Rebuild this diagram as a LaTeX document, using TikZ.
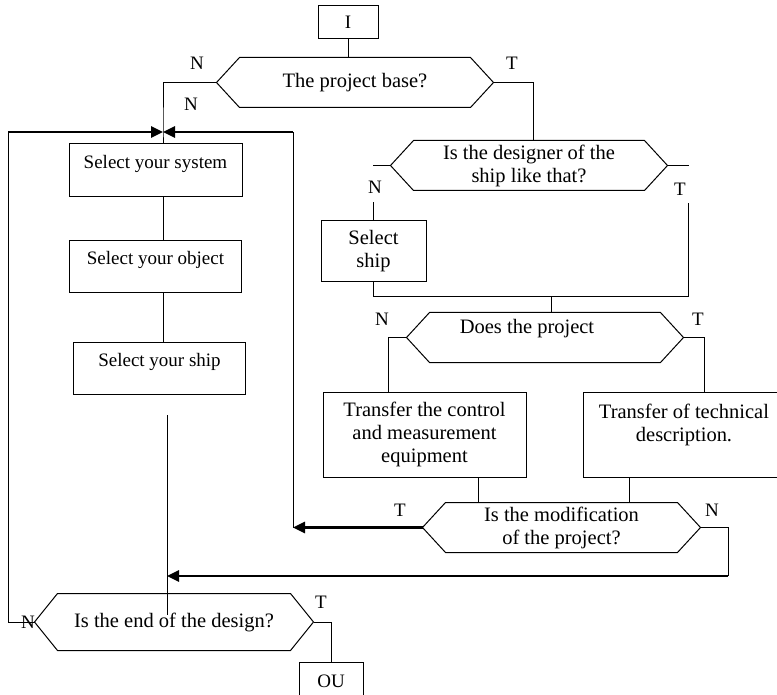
\documentclass[tikz,border=0pt]{standalone}
\usepackage{fontspec}
\setmainfont{Liberation Serif}
\usetikzlibrary{arrows.meta, positioning}

% hexagonal outline round a decision node
\newcommand{\hexframe}[1]{%
  \draw ([xshift=23pt]#1.north west) -- ([xshift=-23pt]#1.north east) -- (#1.east)
    -- ([xshift=-23pt]#1.south east) -- ([xshift=23pt]#1.south west) -- (#1.west) -- cycle;}

\begin{document}
\begin{tikzpicture}[
  x=1pt, y=-1pt, line width=1pt,
  txt/.style={font=\fontsize{20.5}{23}\selectfont},
  smalltxt/.style={font=\fontsize{19}{22}\selectfont},
  box/.style={rectangle, draw, txt, align=center, inner sep=0pt},
  selbox/.style={box, smalltxt, minimum width=172pt, minimum height=52pt,
                 text height=14pt, text depth=18pt},
  termbox/.style={box, smalltxt},
  decision/.style={rectangle, txt, align=center, inner sep=0pt,
                   minimum width=276pt, minimum height=49pt},
  branch/.style={smalltxt, inner sep=1pt},
  thickarrow/.style={line width=2.6pt, -{Triangle[length=12pt,width=11pt]}}
]
\useasboundingbox (0,0) rectangle (777,695);

% left column
\node[termbox, minimum width=60pt, minimum height=33pt] (start) at (348,22.5) {I};
\node[decision] (base) at (355,82.5) {The project base?};
\node[selbox, minimum width=173pt, minimum height=53pt] (system) at (155.5,170.5) {Select your system};
\node[selbox, below=43pt of system] (object) {Select your object};
\node[selbox, below=48pt of object, xshift=4pt] (ship) {Select your ship};

% right column
\node[decision] (designer) at (529,165.5) {Is the designer of the\\ship like that?};
\node[box, minimum width=105pt, minimum height=61pt] (pick) at (373.5,251.5) {Select\\ship};
\node[decision, label={[txt, xshift=-18pt, yshift=9pt]center:Does the project}] (project) at (545,337.5) {};
\node[box, minimum width=203pt, minimum height=85pt] (control) at (424.5,434.5) {Transfer the control\\and measurement\\equipment};
\node[box, minimum width=202pt, minimum height=85pt, right=56pt of control] (techdesc) {Transfer of technical\\description.\\\mbox{}};
\node[decision, minimum width=277pt] (modif) at (561.5,527.5) {Is the modification\\of the project?};

% bottom
\node[decision, minimum width=278pt, minimum height=56pt] (final) at (174,622) {Is the end of the design?};
\node[termbox, minimum width=64pt, minimum height=38pt] (ou) at (331,681) {OU};

\hexframe{base}
\hexframe{designer}
\hexframe{project}
\hexframe{modif}
\hexframe{final}

% bends of the connectors
\coordinate (jn) at (163,132);
\coordinate (lc) at (8,132);
\coordinate (rc) at (293,132);
\coordinate (mgR) at (688,297);
\coordinate (mg) at (551,297);
\coordinate (nr) at (728,576);
\coordinate (mid) at (167,576);
\coordinate (vt) at (167,415);
\coordinate (vb) at (167,615);

\draw (start.south) -- (start.south |- base.north);
\draw (base.west) -| (jn) -- (jn |- system.north);
\draw[thickarrow] (lc) -- (jn);
\draw[thickarrow] (rc) -- (jn);
\draw (jn |- system.south) -- (jn |- object.north);
\draw (jn |- object.south) -- (jn |- ship.north);
\draw (base.east) -| ([xshift=4pt]designer.north);
\draw (designer.west) -- ++(-18,0);
\draw (pick.north) -- ++(0,-18);
\draw (designer.east) -- ++(21,0);
\draw (mgR) -- ++(0,-94);
\draw (pick.south) |- (mgR);
\draw (mg) -- (mg |- project.north);
\draw (project.west) -| ([xshift=-36.5pt]control.north);
\draw (project.east) -| ([xshift=20pt]techdesc.north);
\draw ([xshift=53.5pt]control.south) -- ([xshift=53.5pt]control.south |- modif.north);
\draw ([xshift=-55pt]techdesc.south) -- ([xshift=-55pt]techdesc.south |- modif.north);
\draw[thickarrow] (modif.west) -- (modif.west -| rc);
\draw (modif.west -| rc) -- (rc);
\draw (modif.east) -| (nr);
\draw[thickarrow] (nr) -- (mid);
\draw (vt) -- (vb);
\draw (final.west) -| (lc);
\draw (final.east) -| (ou.north);

% branch marks
\node[branch] (baseN) at (197,63) {N};
\node[branch] (baseN2) at (191,104) {N};
\node[branch] (baseT) at (512,63) {T};
\node[branch] (designerN) at (375,187) {N};
\node[branch] (designerT) at (680,189) {T};
\node[branch] (projectN) at (382,319) {N};
\node[branch] (projectT) at (698,319) {T};
\node[branch] (modifT) at (400,510) {T};
\node[branch] (modifN) at (712,510) {N};
\node[branch] (finalN) at (28,622) {N};
\node[branch] (finalT) at (321,602) {T};

\end{tikzpicture}
\end{document}
